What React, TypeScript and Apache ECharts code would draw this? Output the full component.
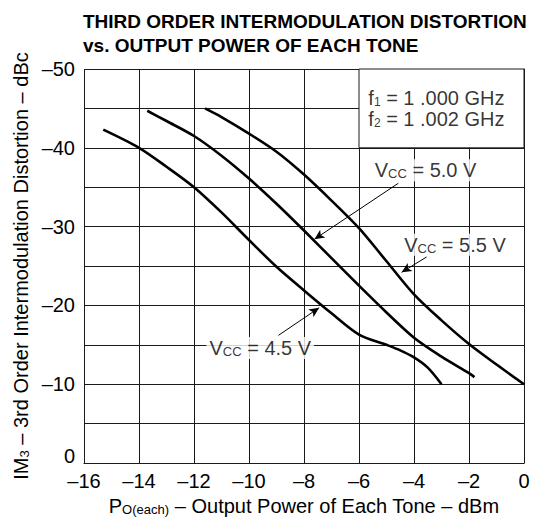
import React, { useEffect, useRef } from "react";
import * as echarts from "echarts";

const FONT = "'Liberation Sans', Arial, Helvetica, sans-serif";

const titleLines = ["THIRD ORDER INTERMODULATION DISTORTION", "vs. OUTPUT POWER OF EACH TONE"];

const vcc45: [number, number][] = [
  [-15.3, -42.3], [-14, -40], [-13, -37.6], [-12, -35], [-11, -31.8], [-10, -28.3],
  [-9, -24.9], [-8, -21.9], [-7, -19.0], [-6, -16.3], [-5, -15.0], [-4.5, -14.3],
  [-4, -13.4], [-3.5, -12.1], [-3, -10],
];
const vcc50: [number, number][] = [
  [-13.7, -44.7], [-13, -43.4], [-12, -41.5], [-11, -39.0], [-10, -36.1], [-9, -32.9],
  [-8, -29.5], [-7, -26.0], [-6, -22.5], [-5, -19.1], [-4, -15.9], [-3, -13.5],
  [-2, -11.4], [-1.8, -10.9],
];
const vcc55: [number, number][] = [
  [-11.6, -45], [-11, -43.9], [-10, -41.8], [-9, -39.5], [-8, -36.6], [-7, -33.3],
  [-6, -29.8], [-5, -25.6], [-4, -21.4], [-3, -18.1], [-2, -15.1], [-1, -12.5], [0, -10],
];

const xMin = -16, xMax = 0, xStep = 2;
const yMin = -50, yMax = 0, yStep = 5, yLabelStep = 10;

// annotation label anchors (data coords)
const labelVcc50: [number, number] = [-3.58, -37.15];
const labelVcc55: [number, number] = [-2.51, -27.7];
const labelVcc45: [number, number] = [-9.59, -14.6];
const freqAnchor: [number, number] = [-5.66, -45.0];
const freqBox: [[number, number], [number, number]] = [[-6, -50], [0, -40]];

const arrows: [[number, number], [number, number]][] = [
  [[-4.57, -35.5], [-7.62, -28.4]],
  [[-3.54, -26.15], [-4.45, -24.2]],
  [[-8.93, -16.2], [-7.45, -19.7]],
];

const dash = (v: number) => (v < 0 ? "\u2013" + String(-v) : String(v));

export default function App() {
  const ref = useRef<HTMLDivElement>(null);
  useEffect(() => {
    if (!ref.current) return;
    const chart = echarts.init(ref.current, null, { renderer: "svg" });
    const richMain = { fontSize: 20, fontFamily: FONT, color: "#000", verticalAlign: "bottom" as const };
    const richSub = { fontSize: 13, fontFamily: FONT, color: "#000", verticalAlign: "bottom" as const };
    const richSubLow = { fontSize: 12, fontFamily: FONT, color: "#000", verticalAlign: "bottom" as const, lineHeight: 7 };
    const rich = { m: richMain, s: richSub, d: richSubLow };

    const curve = (name: string, data: [number, number][]) => ({
      type: "line",
      name,
      data,
      smooth: 0.3,
      showSymbol: false,
      symbol: "none",
      lineStyle: { color: "#000", width: 2.6 },
      z: 3,
    });

    const annot = (pos: [number, number], text: string) => ({
      value: pos,
      label: {
        show: true,
        position: "inside",
        formatter: text,
        rich,
        backgroundColor: "#fff",
        padding: [1, 3, 1, 3],
      },
    });

    const gridLine = { color: "#1a1a1a", width: 1 };

    chart.setOption({
      animation: false,
      backgroundColor: "#fff",
      title: {
        text: titleLines.join("\n"),
        left: 78,
        top: 4,
        textStyle: { fontFamily: FONT, fontSize: 19, fontWeight: "bold", color: "#000", lineHeight: 24 },
      },
      grid: { left: 84, right: 24, top: 69, bottom: 66, containLabel: false },
      xAxis: {
        type: "value",
        min: xMin,
        max: xMax,
        interval: xStep,
        axisLine: { show: true, lineStyle: gridLine },
        axisTick: { show: false },
        splitLine: { show: true, lineStyle: gridLine },
        axisLabel: { formatter: dash, fontSize: 20, fontFamily: FONT, color: "#000", margin: 8 },
        name: "{m|P}{s|O(each)}{m| \u2013 Output Power of Each Tone \u2013 dBm}",
        nameLocation: "middle",
        nameGap: 17,
        nameTextStyle: { fontSize: 20, fontFamily: FONT, color: "#000", rich },
      },
      yAxis: {
        type: "value",
        min: yMin,
        max: yMax,
        interval: yStep,
        inverse: true,
        axisLine: { show: true, lineStyle: gridLine },
        axisTick: { show: false },
        splitLine: { show: true, lineStyle: gridLine },
        axisLabel: {
          formatter: (v: number) =>
            v === 0 ? "{z|0}" : v % yLabelStep === 0 ? dash(v) : "",
          fontSize: 20,
          fontFamily: FONT,
          color: "#000",
          margin: 9,
          rich: { z: { fontSize: 20, fontFamily: FONT, color: "#000", padding: [0, 0, 14, 0] } },
        },
        name: "{m|IM}{s|3}{m| \u2013 3rd Order Intermodulation Distortion \u2013 dBc}",
        nameLocation: "middle",
        nameGap: 51,
        nameTextStyle: { fontSize: 20, fontFamily: FONT, color: "#000", rich },
      },
      series: [
        {
          type: "line",
          data: [],
          z: 2,
          markArea: {
            silent: true,
            itemStyle: { color: "#fff", borderColor: "#1a1a1a", borderWidth: 1 },
            data: [[{ coord: freqBox[0] }, { coord: freqBox[1] }]],
          },
          markLine: {
            silent: true,
            symbol: ["none", "arrow"],
            symbolSize: [7, 10],
            lineStyle: { color: "#000", width: 1, type: "solid" },
            label: { show: false },
            data: arrows.map(([a, b]) => [{ coord: a }, { coord: b }]),
          },
        },
        curve("Vcc 4.5", vcc45),
        curve("Vcc 5.0", vcc50),
        curve("Vcc 5.5", vcc55),
        {
          type: "scatter",
          symbolSize: 0,
          z: 5,
          data: [
            annot(labelVcc50, "{m|V}{s|CC}{m| = 5.0 V}"),
            annot(labelVcc55, "{m|V}{s|CC}{m| = 5.5 V}"),
            annot(labelVcc45, "{m|V}{s|CC}{m| = 4.5 V}"),
            {
              value: freqAnchor,
              label: {
                show: true,
                position: "right",
                distance: 0,
                align: "left",
                lineHeight: 21,
                formatter: "{m|f}{d|1}{m| = 1 .000 GHz}\n{m|f}{d|2}{m| = 1 .002 GHz}",
                rich,
              },
            },
          ],
        },
      ],
    });
    return () => chart.dispose();
  }, []);
  return <div ref={ref} style={{ width: 548, height: 529, position: "absolute", left: 0, top: 0 }} />;
}
